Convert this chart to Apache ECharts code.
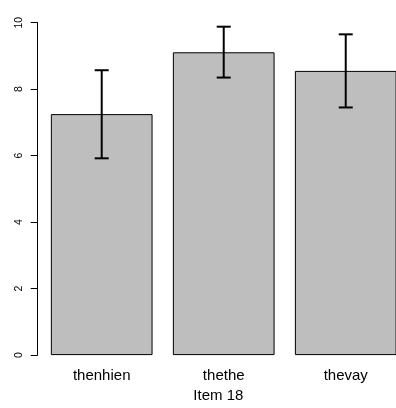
<!DOCTYPE html>
<html>
<head>
<meta charset="utf-8">
<script src="https://cdn.jsdelivr.net/npm/echarts@6/dist/echarts.min.js"></script>
<style>
html,body{margin:0;padding:0;background:#fff;overflow:hidden;}
#c{width:396px;height:408px;}
</style>
</head>
<body>
<div id="c"></div>
<script>
var categories = ['thenhien', 'thethe', 'thevay'];
var means = [7.25, 9.11, 8.55];
var lowErr = [5.92, 8.35, 7.45];
var highErr = [8.57, 9.88, 9.65];
var yTicks = [0, 2, 4, 6, 8, 10];
var xTitle = 'Item 18';

var chart = echarts.init(document.getElementById('c'));
var barData = categories.map(function (c, i) { return [i, means[i]]; });
var errData = categories.map(function (c, i) { return [i, lowErr[i], highErr[i]]; });
var catIdx = categories.map(function (c, i) { return i; });

chart.setOption({
  animation: false,
  grid: { left: 40.7, top: 22.7, right: 0, height: 333.3 },
  xAxis: {
    type: 'value',
    min: -0.5,
    max: 2.412,
    name: xTitle,
    nameLocation: 'middle',
    nameGap: 29,
    nameTextStyle: { fontSize: 15, color: '#000', fontFamily: 'Liberation Sans, Arial, sans-serif' },
    axisLine: { show: false, onZero: false },
    axisTick: { show: false },
    axisLabel: {
      customValues: catIdx,
      formatter: function (v) { return categories[Math.round(v)]; },
      fontSize: 15, color: '#000', margin: 13, fontFamily: 'Liberation Sans, Arial, sans-serif'
    },
    splitLine: { show: false }
  },
  yAxis: {
    type: 'value',
    min: yTicks[0],
    max: yTicks[yTicks.length - 1],
    interval: 2,
    offset: 3,
    axisLine: { show: true, onZero: false, lineStyle: { color: '#000', width: 1 } },
    axisTick: { show: true, length: 7, lineStyle: { color: '#000', width: 1 } },
    axisLabel: { rotate: 90, fontSize: 10.5, color: '#000', margin: 13, fontFamily: 'Liberation Sans, Arial, sans-serif' },
    splitLine: { show: false }
  },
  series: [
    {
      type: 'bar',
      data: barData,
      barWidth: 101.7,
      itemStyle: { color: '#bebebe', borderColor: '#000', borderWidth: 1 }
    },
    {
      type: 'custom',
      data: errData,
      z: 10,
      renderItem: function (params, api) {
        var x = api.value(0);
        var lo = api.coord([x, api.value(1)]);
        var hi = api.coord([x, api.value(2)]);
        var hw = 7;
        var st = { stroke: '#000', lineWidth: 2 };
        return {
          type: 'group',
          children: [
            { type: 'line', shape: { x1: lo[0], y1: lo[1], x2: hi[0], y2: hi[1] }, style: st },
            { type: 'line', shape: { x1: lo[0] - hw, y1: lo[1], x2: lo[0] + hw, y2: lo[1] }, style: st },
            { type: 'line', shape: { x1: hi[0] - hw, y1: hi[1], x2: hi[0] + hw, y2: hi[1] }, style: st }
          ]
        };
      }
    }
  ]
});
</script>
</body>
</html>
